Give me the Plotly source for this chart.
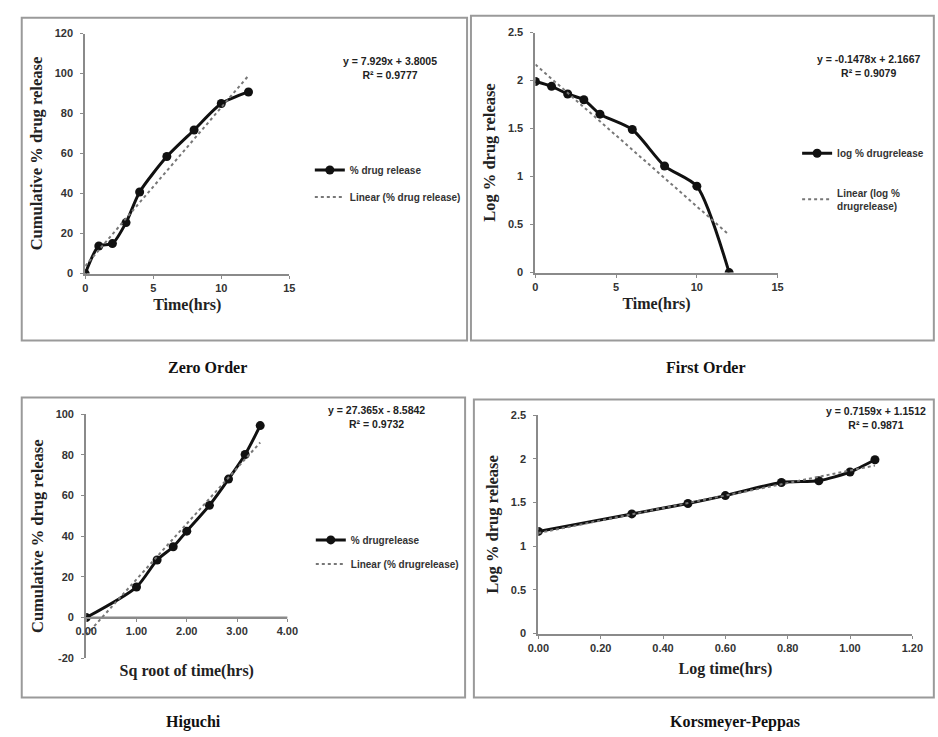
import plotly.graph_objects as go
import numpy as np

# ---- data ----
time_hrs = [0, 1, 2, 3, 4, 6, 8, 10, 12]
zero_order_release = [0, 13.8, 15.0, 25.5, 40.8, 58.5, 71.8, 85.0, 90.8]
first_order_log = [1.99, 1.94, 1.86, 1.80, 1.65, 1.49, 1.11, 0.90, 0.0]
sqrt_time = [0, 1.00, 1.41, 1.73, 2.00, 2.45, 2.83, 3.16, 3.46]
higuchi_release = [0, 15.0, 28.3, 34.8, 42.5, 55.2, 68.1, 80.2, 94.4]
log_time = [0, 0.30, 0.48, 0.60, 0.78, 0.90, 1.00, 1.08]
kp_log_release = [1.17, 1.37, 1.49, 1.58, 1.73, 1.75, 1.85, 1.99]

# trendline equations (as printed on the chart)
zero_fit = (7.929, 3.8005, "0.9777")
first_fit = (-0.1478, 2.1667, "0.9079")
higuchi_fit = (27.365, -8.5842, "0.9732")
kp_fit = (0.7159, 1.1512, "0.9871")

W, H = 938, 737
def px(x): return x / W
def py(y): return 1 - y / H

AXC = "#8a8a8a"
TICKFONT = dict(family="Liberation Sans Narrow, Liberation Sans, Arial", size=11, color="#333", weight="bold")
XTITLEFONT = dict(family="Liberation Serif, Times New Roman, serif", size=16, color="#222", weight="bold")
YTITLEFONT = dict(family="Liberation Serif, Times New Roman, serif", size=16.5, color="#222", weight="bold")
LEGFONT = dict(family="Liberation Sans Narrow, Liberation Sans, Arial", size=10, color="#333", weight="bold")

fig = go.Figure()

def add_panel(n, x, y, fit, name, lin_name, legend, showleg=True):
    xs = "x" if n == 1 else f"x{n}"
    ys = "y" if n == 1 else f"y{n}"
    fig.add_trace(go.Scatter(x=x, y=y, mode="lines+markers", name=name,
                             line=dict(color="#111", width=3, shape="spline", smoothing=0.7),
                             marker=dict(size=9, color="#111"),
                             xaxis=xs, yaxis=ys, legend=legend, showlegend=showleg,
                             legendgroup=f"a{n}"))
    xf = np.array([min(x), max(x)])
    fig.add_trace(go.Scatter(x=xf, y=fit[0] * xf + fit[1], mode="lines", name=lin_name,
                             line=dict(color="#777", width=2, dash="dot"),
                             xaxis=xs, yaxis=ys, legend=legend, showlegend=showleg,
                             legendgroup=f"b{n}"))

add_panel(1, time_hrs, zero_order_release, zero_fit, "% drug release", "Linear (% drug release)", "legend")
add_panel(2, time_hrs, first_order_log, first_fit, "log % drugrelease", "Linear (log %<br>drugrelease)", "legend2")
add_panel(3, sqrt_time, higuchi_release, higuchi_fit, "% drugrelease", "Linear (% drugrelease)", "legend3")
add_panel(4, log_time, kp_log_release, kp_fit, "log", "Linear", "legend", showleg=False)

def axis(domain, rng, tickvals, ticktext, title, anchor, standoff, font, **kw):
    d = dict(domain=domain, range=rng, tickvals=tickvals, ticktext=ticktext,
             showline=True, linecolor=AXC, linewidth=2, showgrid=False, zeroline=False,
             ticks="outside", ticklen=3, tickcolor=AXC, tickfont=TICKFONT,
             title=dict(text=title, font=font, standoff=standoff), anchor=anchor)
    d.update(kw)
    return d

fig.update_layout(
    width=W, height=H, margin=dict(l=0, r=0, t=0, b=0),
    paper_bgcolor="white", plot_bgcolor="rgba(0,0,0,0)",
    xaxis=axis([px(76), px(285)], [0, 15], [0, 5, 10, 15], ["0", "5", "10", "15"], "Time(hrs)", "y", 6, XTITLEFONT),
    yaxis=axis([py(272), py(28)], [0, 120], list(range(0, 121, 20)), [str(v) for v in range(0, 121, 20)],
               "Cumulative % drug release", "x", 8, YTITLEFONT, ticklabelstandoff=5),
    xaxis2=axis([px(537), px(785)], [0, 15], [0, 5, 10, 15], ["0", "5", "10", "15"], "Time(hrs)", "y2", 6, XTITLEFONT),
    yaxis2=axis([py(271), py(27)], [0, 2.5], [0, 0.5, 1, 1.5, 2, 2.5], ["0", "0.5", "1", "1.5", "2", "2.5"],
                "Log % drug release", "x2", 8, YTITLEFONT, ticklabelstandoff=5),
    xaxis3=axis([px(77), px(283)], [0, 4], [0, 1, 2, 3, 4], ["0.00", "1.00", "2.00", "3.00", "4.00"],
                "Sq root of time(hrs)", "free", 28, XTITLEFONT, position=py(622)),
    yaxis3=axis([py(663), py(415)], [-20, 100], list(range(-20, 101, 20)), [str(v) for v in range(-20, 101, 20)],
                "Cumulative % drug release", "x3", 8, YTITLEFONT, ticklabelstandoff=5),
    xaxis4=axis([px(540), px(923)], [0, 1.2], [0, 0.2, 0.4, 0.6, 0.8, 1.0, 1.2],
                ["0.00", "0.20", "0.40", "0.60", "0.80", "1.00", "1.20"], "Log time(hrs)", "y4", 10, XTITLEFONT),
    yaxis4=axis([py(638), py(416)], [0, 2.5], [0, 0.5, 1, 1.5, 2, 2.5], ["0", "0.5", "1", "1.5", "2", "2.5"],
                "Log % drug release", "x4", 8, YTITLEFONT, ticklabelstandoff=5),
    legend=dict(x=px(306), y=py(152), xanchor="left", yanchor="top", font=LEGFONT, itemwidth=30,
                tracegroupgap=8, bgcolor="rgba(0,0,0,0)"),
    legend2=dict(x=px(805), y=py(135), xanchor="left", yanchor="top", font=LEGFONT, itemwidth=30,
                 tracegroupgap=22, bgcolor="rgba(0,0,0,0)"),
    legend3=dict(x=px(307), y=py(528), xanchor="left", yanchor="top", font=LEGFONT, itemwidth=30,
                 tracegroupgap=5, bgcolor="rgba(0,0,0,0)"),
)

# the y=0 line for Higuchi
fig.add_shape(type="line", xref="x3 domain", yref="y3", x0=0, x1=1, y0=0, y1=0,
              line=dict(color=AXC, width=2), layer="below")

# panel borders
for (x0, y0, x1, y1) in [(11, 12, 467, 340), (471, 10, 945, 340), (11, 398, 465, 703), (474, 400, 945, 703)]:
    fig.add_shape(type="rect", xref="paper", yref="paper", x0=px(x0), x1=px(x1), y0=py(y0), y1=py(y1),
                  line=dict(color="#9a9a9a", width=2), fillcolor="rgba(0,0,0,0)")

EQFONT = dict(family="Liberation Sans Narrow, Liberation Sans, Arial", size=10.5, color="#222", weight="bold")
def eq_text(fit):
    m, b, r2 = fit
    sign = "+" if b >= 0 else "-"
    return f"y = {m}x {sign} {abs(b)}<br>R² = {r2}"

for fit, (cx, cy) in [(zero_fit, (388, 63)), (first_fit, (878, 61)), (higuchi_fit, (374, 418)), (kp_fit, (886, 419))]:
    fig.add_annotation(text=eq_text(fit), xref="paper", yref="paper", x=px(cx), y=py(cy),
                       xanchor="center", yanchor="middle", showarrow=False, font=EQFONT, align="center")

PTFONT = dict(family="Liberation Serif, Times New Roman, serif", size=16, color="#111", weight="bold")
for t, (cx, cy) in [("Zero Order", (201, 367)), ("First Order", (712, 367)),
                    ("Higuchi", (187, 728)), ("Korsmeyer-Peppas", (741, 728))]:
    fig.add_annotation(text=t, xref="paper", yref="paper", x=px(cx), y=py(cy),
                       xanchor="center", yanchor="middle", showarrow=False, font=PTFONT)

fig.write_html("out.html", config={"displayModeBar": False},
               post_script="document.body.style.margin='0';document.body.style.overflow='hidden';")
